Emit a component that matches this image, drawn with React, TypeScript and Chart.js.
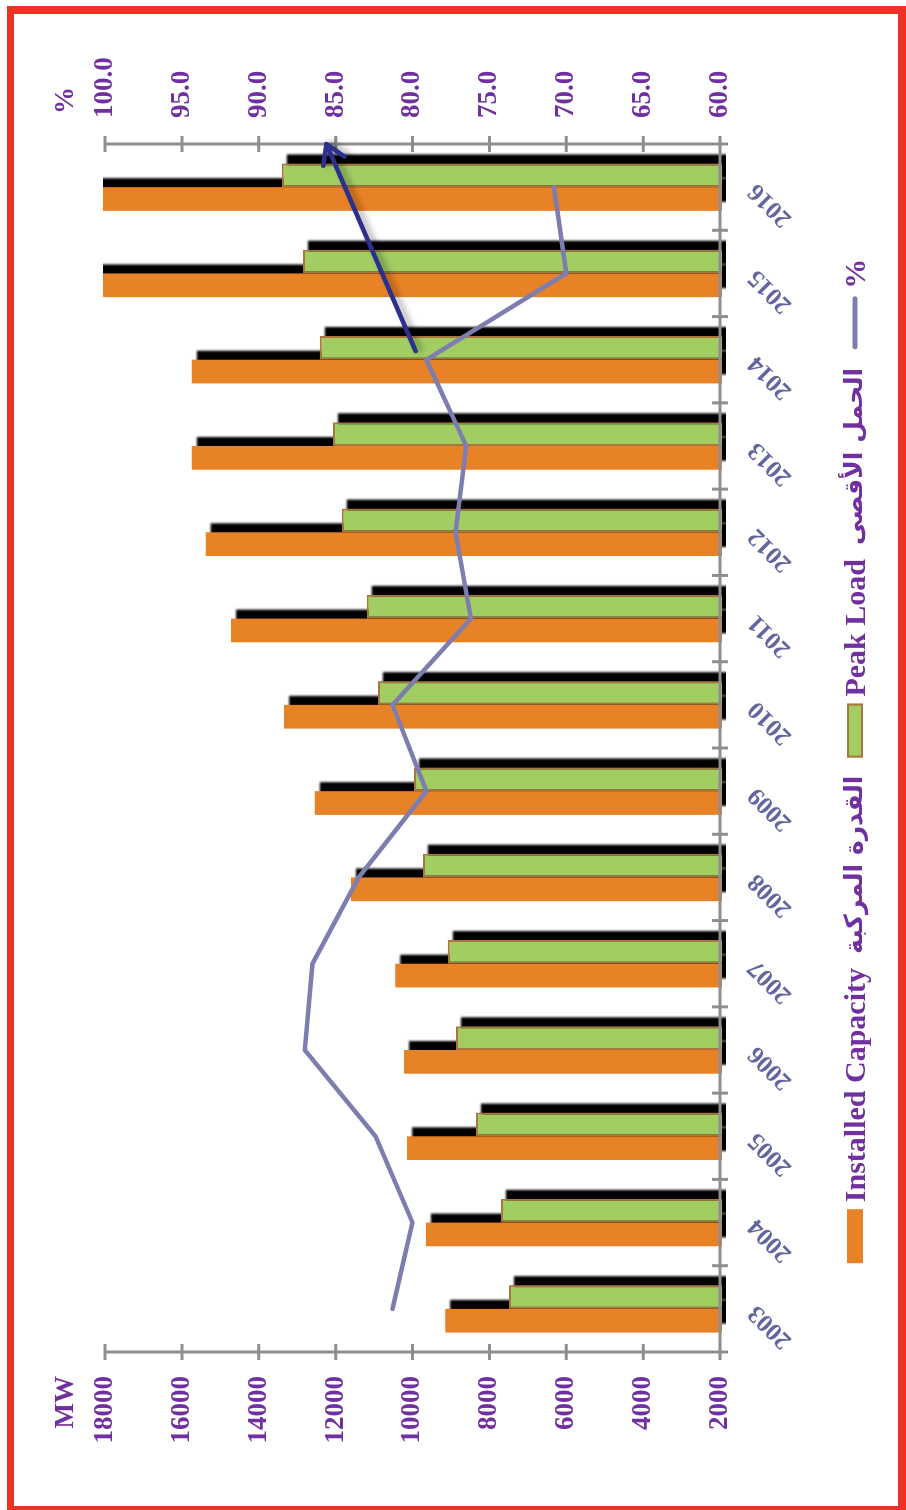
import { useEffect, useRef } from 'react';
import { Chart, registerables } from 'chart.js';

Chart.register(...registerables);

// ---------- data ----------
const years = ['2003', '2004', '2005', '2006', '2007', '2008', '2009', '2010', '2011', '2012', '2013', '2014', '2015', '2016'];
const installedCapacity = [9150, 9650, 10140, 10220, 10450, 11600, 12540, 13340, 14720, 15380, 15740, 15740, 18270, 18270];
const peakLoad = [7490, 7700, 8350, 8870, 9080, 9730, 9960, 10900, 11190, 11840, 12070, 12410, 12850, 13400];
const loadPercent = [81.3, 80.0, 82.4, 87.0, 86.5, 83.5, 79.1, 81.3, 76.2, 77.2, 76.5, 79.1, 70.0, 70.8];
const mwRange = [2000, 18000, 2000]; // min, max, step
const pctRange = [60, 100, 5];
const arrowStart = [11.1, 79.8]; // [category index, %]
const arrowEnd = [13.5, 85.6];
const mwTitle = 'MW';
const pctTitle = '%';
const seriesLabels = ['Installed Capacity', 'Peak Load', '%'];
const seriesLabelsAr = ['القدرة المركبة', 'الحمل الأقصى', ''];

// ---------- styles ----------
const ORANGE = 'rgb(232,130,38)';
const GREEN = 'rgb(162,205,99)';
const GREEN_BORDER = 'rgb(170,118,60)';
const LINE = 'rgb(125,125,175)';
const PURPLE = '#7030A0';
const YEAR_COLOR = 'rgb(98,102,158)';
const AXIS_GRAY = '#8E8E8E';
const ARROW = '#2B2F8E';
const SERIF = '"Liberation Serif", "Times New Roman", "DejaVu Serif", serif';
const LEGEND_FONT = 'bold 30px "Liberation Serif", "DejaVu Sans", serif';
const ARABIC_FONT = 'bold 25px "DejaVu Sans", sans-serif';

const W = 1510;
const H = 906;

const shadowPlugin = {
  id: 'barShadows',
  beforeDatasetsDraw(chart: any) {
    const { ctx, chartArea } = chart;
    ctx.save();
    ctx.beginPath();
    ctx.rect(chartArea.left, chartArea.top - 2, chartArea.right - chartArea.left, chartArea.bottom - chartArea.top + 8);
    ctx.clip();
    ctx.filter = 'blur(1px)';
    ctx.fillStyle = '#000';
    chart.data.datasets.forEach((ds: any, i: number) => {
      if (ds.type !== 'bar') return;
      const meta = chart.getDatasetMeta(i);
      meta.data.forEach((el: any) => {
        const { x, y, base, width } = el.getProps(['x', 'y', 'base', 'width'], true);
        ctx.fillRect(x - width / 2 + 9, y + 5, width, base - y);
      });
    });
    ctx.restore();
  },
};

const axesPlugin = {
  id: 'customAxes',
  afterDatasetsDraw(chart: any) {
    const { ctx, chartArea } = chart;
    const xs = chart.scales.x;
    const ys = chart.scales.y;
    const y1 = chart.scales.y1;
    ctx.save();
    ctx.strokeStyle = AXIS_GRAY;
    ctx.lineWidth = 3;
    ctx.lineCap = 'butt';
    ctx.beginPath();
    [[ys, chartArea.left], [y1, chartArea.right]].forEach(([sc, X]: any) => {
      ctx.moveTo(X, chartArea.top);
      ctx.lineTo(X, chartArea.bottom + 8);
      sc.ticks.forEach((t: any) => {
        const p = sc.getPixelForValue(t.value);
        ctx.moveTo(X - 8, p);
        ctx.lineTo(X + 8, p);
      });
    });
    ctx.moveTo(chartArea.left, chartArea.bottom);
    ctx.lineTo(chartArea.right, chartArea.bottom);
    for (let i = 0; i <= years.length; i++) {
      const p = xs.getPixelForValue(i - 0.5);
      ctx.moveTo(p, chartArea.bottom - 8);
      ctx.lineTo(p, chartArea.bottom + 8);
    }
    ctx.stroke();

    ctx.fillStyle = PURPLE;
    ctx.font = `bold 27px ${SERIF}`;
    ctx.textBaseline = 'middle';
    ctx.textAlign = 'right';
    ctx.fillText(mwTitle, chartArea.left - 24, chartArea.top - 39);
    ctx.textAlign = 'left';
    ctx.fillText(pctTitle, chartArea.right + 30, chartArea.top - 39);

    const ax1 = xs.getPixelForValue(arrowStart[0]);
    const ay1 = y1.getPixelForValue(arrowStart[1]);
    const ax2 = xs.getPixelForValue(arrowEnd[0]);
    const ay2 = y1.getPixelForValue(arrowEnd[1]);
    const ang = Math.atan2(ay2 - ay1, ax2 - ax1);
    const hl = 22;
    const ha = 0.55;
    ctx.strokeStyle = ARROW;
    ctx.lineWidth = 4.5;
    ctx.lineCap = 'round';
    ctx.lineJoin = 'round';
    ctx.shadowColor = 'rgba(0,0,0,0.35)';
    ctx.shadowBlur = 6;
    ctx.shadowOffsetX = 1;
    ctx.shadowOffsetY = 4;
    ctx.beginPath();
    ctx.moveTo(ax1, ay1);
    ctx.lineTo(ax2, ay2);
    ctx.moveTo(ax2 - hl * Math.cos(ang - ha), ay2 - hl * Math.sin(ang - ha));
    ctx.lineTo(ax2, ay2);
    ctx.lineTo(ax2 - hl * Math.cos(ang + ha), ay2 - hl * Math.sin(ang + ha));
    ctx.stroke();
    ctx.restore();
  },
};

const legendPlugin = {
  id: 'customLegend',
  afterDraw(chart: any) {
    const { ctx } = chart;
    const ds = chart.data.datasets;
    const order = [1, 2, 0];
    const sym = 54;
    const gap = 7;
    const arGap = 14;
    const spacing = 18;
    const cy = 855;
    ctx.save();
    ctx.textBaseline = 'middle';
    ctx.textAlign = 'left';
    const parts = order.map((i) => {
      ctx.font = LEGEND_FONT;
      const enW = ctx.measureText(ds[i].label).width;
      ctx.font = ARABIC_FONT;
      const ar = ds[i].arLabel || '';
      const arW = ar ? ctx.measureText(ar).width + arGap : 0;
      return { enW, arW, ar, width: sym + gap + enW + arW };
    });
    const total = parts.reduce((a, b) => a + b.width, 0) + spacing * (order.length - 1);
    let x = 749 - total / 2;
    order.forEach((i, k) => {
      const d = ds[i];
      const p = parts[k];
      if (d.type === 'line') {
        ctx.strokeStyle = d.borderColor;
        ctx.lineWidth = 5;
        ctx.lineCap = 'round';
        ctx.beginPath();
        ctx.moveTo(x + 3, cy);
        ctx.lineTo(x + sym - 3, cy);
        ctx.stroke();
      } else {
        ctx.fillStyle = d.backgroundColor;
        ctx.fillRect(x, cy - 8, sym, 16);
        if (d.borderWidth) {
          ctx.strokeStyle = d.borderColor;
          ctx.lineWidth = 2;
          ctx.strokeRect(x + 1, cy - 7, sym - 2, 14);
        }
      }
      ctx.fillStyle = PURPLE;
      ctx.font = LEGEND_FONT;
      ctx.fillText(d.label, x + sym + gap, cy + 2);
      if (p.ar) {
        ctx.font = ARABIC_FONT;
        ctx.fillText(p.ar, x + sym + gap + p.enW + arGap, cy);
      }
      x += p.width + spacing;
    });
    ctx.restore();
  },
};

export default function App() {
  const ref = useRef<HTMLCanvasElement | null>(null);

  useEffect(() => {
    if (!ref.current) return;
    const chart = new Chart(ref.current, {
      type: 'bar',
      data: {
        labels: years,
        datasets: [
          {
            type: 'line',
            label: seriesLabels[2],
            arLabel: seriesLabelsAr[2],
            data: loadPercent,
            yAxisID: 'y1',
            borderColor: LINE,
            backgroundColor: LINE,
            borderWidth: 4.5,
            borderCapStyle: 'round',
            pointRadius: 0,
            tension: 0,
          } as any,
          {
            type: 'bar',
            label: seriesLabels[0],
            arLabel: seriesLabelsAr[0],
            data: installedCapacity,
            yAxisID: 'y',
            backgroundColor: ORANGE,
            borderWidth: 0,
            categoryPercentage: 0.55,
            barPercentage: 1,
            clip: 2,
          } as any,
          {
            type: 'bar',
            label: seriesLabels[1],
            arLabel: seriesLabelsAr[1],
            data: peakLoad,
            yAxisID: 'y',
            backgroundColor: GREEN,
            borderColor: GREEN_BORDER,
            borderWidth: 2,
            categoryPercentage: 0.55,
            barPercentage: 1,
            clip: 2,
          } as any,
        ],
      },
      options: {
        responsive: false,
        animation: false,
        devicePixelRatio: 1,
        layout: { padding: { top: 105, left: 0, right: 0, bottom: 0 } },
        plugins: { legend: { display: false }, tooltip: { enabled: false } },
        scales: {
          x: {
            offset: true,
            grid: { display: false, drawTicks: false, offset: true },
            border: { display: false },
            ticks: {
              autoSkip: false,
              minRotation: 45,
              maxRotation: 45,
              padding: 22,
              color: YEAR_COLOR,
              font: { family: SERIF, size: 25, weight: 'bold' },
            },
            afterFit: (s: any) => {
              s.height = H - 720;
            },
          },
          y: {
            position: 'left',
            min: mwRange[0],
            max: mwRange[1],
            grid: { display: false, drawTicks: false },
            border: { display: false },
            ticks: {
              stepSize: mwRange[2],
              padding: 24,
              color: PURPLE,
              font: { family: SERIF, size: 27, weight: 'bold' },
              callback: (v: any) => String(v),
            },
            afterFit: (s: any) => {
              s.width = 158;
            },
          },
          y1: {
            position: 'right',
            min: pctRange[0],
            max: pctRange[1],
            grid: { display: false, drawTicks: false },
            border: { display: false },
            ticks: {
              stepSize: pctRange[2],
              padding: 26,
              color: PURPLE,
              font: { family: SERIF, size: 27, weight: 'bold' },
              callback: (v: any) => Number(v).toFixed(1),
            },
            afterFit: (s: any) => {
              s.width = W - 1366;
            },
          },
        },
      } as any,
      plugins: [shadowPlugin, axesPlugin, legendPlugin],
    });
    return () => chart.destroy();
  }, []);

  return (
    <div style={{ position: 'absolute', left: 0, top: 0, width: 906, height: 1510, overflow: 'hidden', background: '#fff' }}>
      <div
        style={{
          position: 'absolute',
          left: 0,
          top: 0,
          width: W,
          height: H,
          transformOrigin: '0 0',
          transform: `translateY(${W}px) rotate(-90deg)`,
        }}
      >
        <canvas ref={ref} width={W} height={H} style={{ width: W, height: H, display: 'block' }} />
      </div>
      <div
        style={{
          position: 'absolute',
          left: 7,
          top: 6,
          right: 0,
          bottom: 0,
          borderStyle: 'solid',
          borderColor: 'rgb(236,50,36)',
          borderWidth: '8px 8px 4px 7px',
          boxSizing: 'border-box',
          pointerEvents: 'none',
        }}
      />
    </div>
  );
}
